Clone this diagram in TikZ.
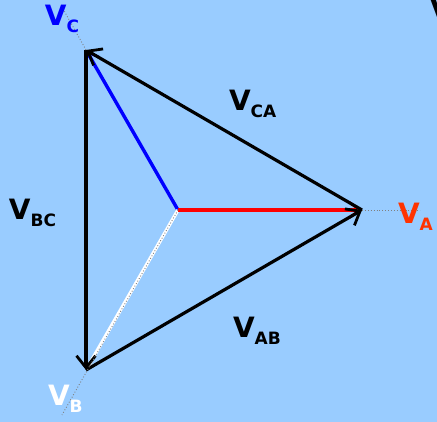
\documentclass[tikz,border=0pt]{standalone}
\usepackage{fontspec}
\setmainfont{DejaVu Sans}
\usetikzlibrary{arrows.meta}
\definecolor{bg}{HTML}{99CCFF}
\definecolor{lblred}{HTML}{FF3300}
\definecolor{phred}{HTML}{FF0000}
\definecolor{phblue}{HTML}{0000FF}
\newcommand\phlab[1]{{\fontsize{28}{28}\selectfont\bfseries V}\raisebox{-7pt}{\fontsize{17}{17}\selectfont\bfseries #1}}
\begin{document}
\begin{tikzpicture}[x=1pt,y=-1pt,
  lineside/.style={line width=3.2pt,draw=black,-{Straight Barb[length=12pt,width=19pt,line width=2.8pt]}},
  phasor/.style={line width=3.4pt,-{Straight Barb[length=11pt,width=16pt,line width=2.6pt]}},
  ext/.style={draw=gray,line width=0.9pt,dotted},
  lbl/.style={anchor=base west,inner sep=0pt,outer sep=0pt}]
\fill[bg] (0,0) rectangle (437,422);
\useasboundingbox (0,0) rectangle (437,422);
\coordinate (O) at (178,210);
\coordinate (A) at (362,210);
\coordinate (B) at (86,370);
\coordinate (C) at (86,50);
\coordinate (Ae) at (420,210);
\coordinate (Be) at (62,415);
\coordinate (Ce) at (62,7);
% phasors
\draw[phasor,draw=phblue] (O) -- (C);
\draw[phasor,draw=white] (O) -- (B);
\draw[phasor,draw=phred] (O) -- (A);
% line voltages
\draw[lineside] (A) -- (C);
\draw[lineside] (C) -- (B);
\draw[lineside] (B) -- (A);
% dotted reference lines
\draw[ext] (A) -- (Ae);
\draw[ext] (O) -- (Be);
\draw[ext] (C) -- (Ce);
% labels
\node[lbl,text=phblue] (lc) at (45,26) {\phlab{C}};
\node[lbl,text=lblred] (la) at (398,224) {\phlab{A}};
\node[lbl,text=white] (lb) at (48,406) {\phlab{B}};
\node[lbl] (lca) at (229,111) {\phlab{CA}};
\node[lbl] (lbc) at (9,220) {\phlab{BC}};
\node[lbl] (lab) at (233,338) {\phlab{AB}};
\node[lbl] (lx) at (430,20) {{\fontsize{28}{28}\selectfont\bfseries V}};
\end{tikzpicture}
\end{document}
